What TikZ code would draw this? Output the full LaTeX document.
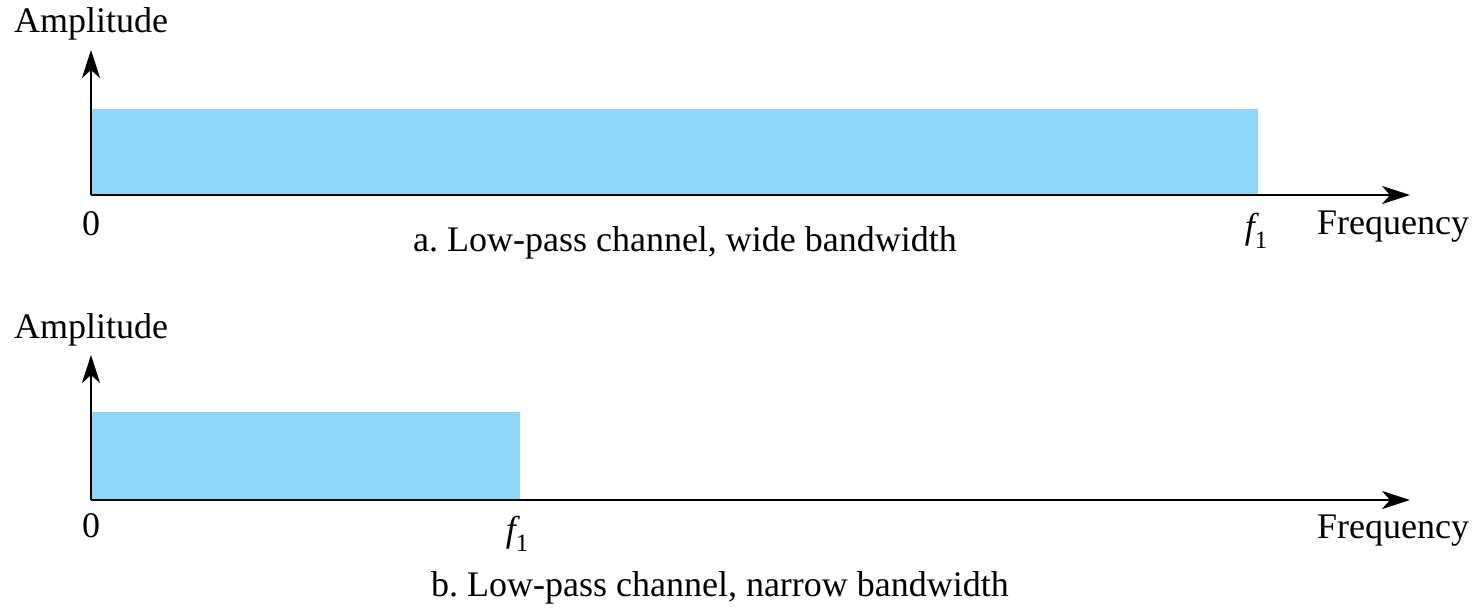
\documentclass[tikz,border=0pt]{standalone}
\usepackage{fontspec}
\setmainfont{Liberation Serif}
\usetikzlibrary{arrows.meta}
\definecolor{band}{HTML}{8DD8F8}
\frenchspacing
% italic f with subscript 1, set in the text font
\newcommand{\fone}{{\itshape f}\raisebox{-0.28em}{\fontsize{25}{30}\selectfont 1}}
\begin{document}
\begin{tikzpicture}[x=1pt,y=-1pt,
  axis/.style={line width=2.4pt,-{Stealth[length=28pt,width=18pt,inset=8pt]}},
  lbl/.style={inner sep=0pt,font=\fontsize{36}{42}\selectfont},
  ]
\useasboundingbox (0,0) rectangle (1479,610);
% panel a
\fill[band] (91,109) rectangle (1258,195);
\coordinate (oa) at (91,195);
\coordinate (ya) at (91,50);
\coordinate (xa) at (1410,195);
\draw[axis] (oa) -- (ya);
\draw[axis] (oa) -- (xa);
\node[lbl] (ampa) at (91,24) {Amplitude};
\node[lbl] (zeroa) at (91,224) {0};
\node[lbl] (f1a) at (1256,231) {\fone};
\node[lbl] (freqa) at (1393,227) {Frequency};
\node[lbl] (capa) at (685,243) {a. Low-pass channel, wide bandwidth};
% panel b
\fill[band] (91,412) rectangle (520,500);
\coordinate (ob) at (91,500);
\coordinate (yb) at (91,355);
\coordinate (xb) at (1410,500);
\draw[axis] (ob) -- (yb);
\draw[axis] (ob) -- (xb);
\node[lbl] (ampb) at (91,330) {Amplitude};
\node[lbl] (zerob) at (91,526) {0};
\node[lbl] (f1b) at (517,534) {\fone};
\node[lbl] (freqb) at (1393,531) {Frequency};
\node[lbl] (capb) at (720,588) {b. Low-pass channel, narrow bandwidth};
\end{tikzpicture}
\end{document}
